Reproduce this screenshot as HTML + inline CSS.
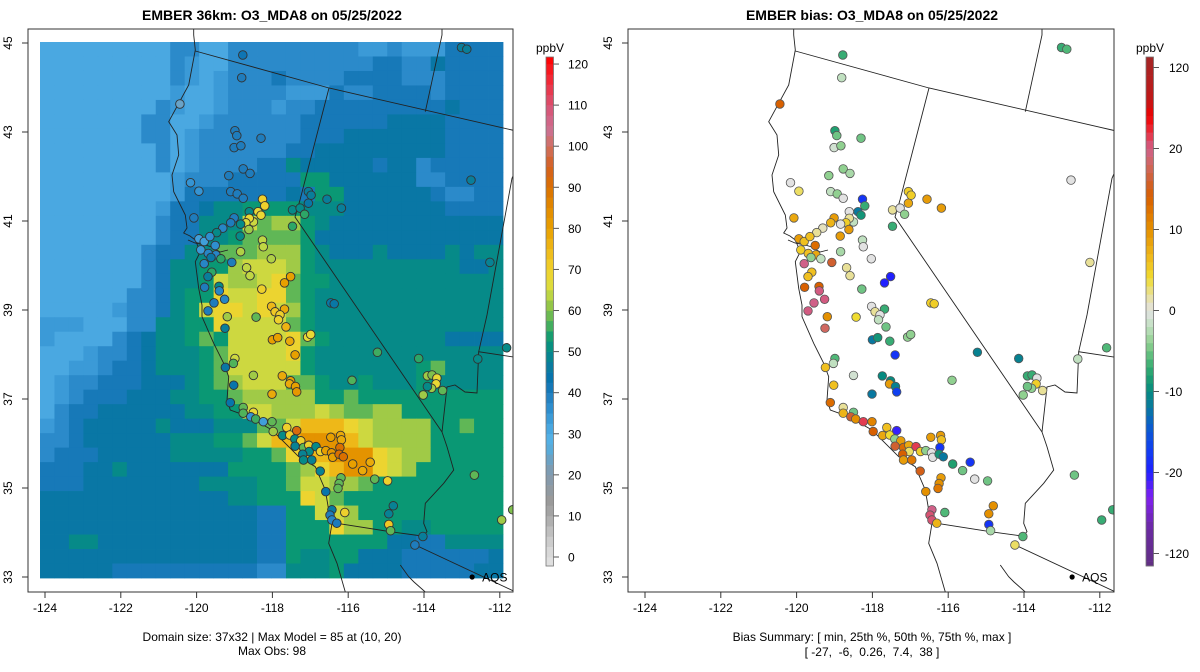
<!DOCTYPE html>
<html><head><meta charset="utf-8"><style>
html,body{margin:0;padding:0;background:#fff;}
svg{display:block;font-family:"Liberation Sans",sans-serif;}
</style></head><body>
<svg id="chart" width="1200" height="672" viewBox="0 0 1200 672">
<defs>
<clipPath id="clipL"><rect x="28" y="29" width="485" height="563"/></clipPath>
<clipPath id="clipR"><rect x="628" y="29" width="486" height="563"/></clipPath>
</defs>
<text x="272" y="20" text-anchor="middle" font-size="14" font-weight="bold">EMBER 36km: O3_MDA8 on 05/25/2022</text>
<text x="872" y="20" text-anchor="middle" font-size="14" font-weight="bold">EMBER bias: O3_MDA8 on 05/25/2022</text>
<g id="gridL" clip-path="url(#clipL)"></g>
<g id="baseL" clip-path="url(#clipL)"></g>
<g id="baseR" clip-path="url(#clipR)"></g>
<g id="dotsL" clip-path="url(#clipL)"></g>
<g id="dotsR" clip-path="url(#clipR)"></g>
<rect x="28" y="29" width="485" height="563" fill="none" stroke="#333" stroke-width="1"/>
<rect x="628" y="29" width="486" height="563" fill="none" stroke="#333" stroke-width="1"/>
<g id="axes"></g>
<g id="cbars"></g>
<text x="272" y="641" text-anchor="middle" font-size="12">Domain size: 37x32 | Max Model = 85 at (10, 20)</text>
<text x="272" y="655" text-anchor="middle" font-size="12">Max Obs: 98</text>
<text x="872" y="641" text-anchor="middle" font-size="12">Bias Summary: [ min, 25th %, 50th %, 75th %, max ]</text>
<text x="872" y="656" text-anchor="middle" font-size="12" xml:space="preserve">[ -27,  -6,  0.26,  7.4,  38 ]</text>
</svg>
<script>
// ---- data ----
const gridRows = [
"aaaaaaaaaccaacccccccccbbcbbbdddd",
"aaaaaaaaacbaaccccccccccddcceddd",
"aaaaaaaaacbabcccdccccddddcccdddd",
"aaaaaaaaabaabccccbbbdccddddcdddd",
"aaaaaaaacbaabcccbccdddddddddeddd",
"aaaaaaaccaabccccccddddddeeeedddd",
"aaaaaaaccabcccccccdddeeeeeeeddddd",
"aaaaaaaacabccccccddeeeeeeeeedddd",
"aaaaaaaacabccccddfeeeeedeecdddd",
"aaaaaaaaabcccdddddggeeeeeeccdddd",
"aaaaaaaaabdddddddedggeeeeeedccdd",
"aaaaaaaabddeffggggfffeeeeeeedddd",
"aaaaaaaacddfffjhiigfeeeeeeeeeeee",
"aaaaaaaacddffghhhhgeeeeeeeeeeeee",
"aaaaaaacddffhhhiiigfeeefeeeefeff",
"aaaaaaacdffggijjjigffffffffffeef",
"aaaaaaacdffgjiijkhggffffffffffff",
"aaaaaaccdfggkjjkkhgfffffffffffff",
"aaaaabccdfgjkkjkjigfffffffffffff",
"bbbaaaccffggkjjjjhgfffffffffffff",
"baaaacdeffghgjjjjkhgffffffffeeee",
"aaabccdefffghjjjjkgfffffffffffff",
"aabbcddefffghjjjjjgfffffffghffff",
"abccdddeeefghijjjhhgffgfffgfffff",
"abcdddeeeffgghiiiiigghgggggggggg",
"acddeeeeeeffggjjiiijihhiiggggggg",
"bcdeeeeefeeefffhhjlllkjiiiigghgg",
"ccdeeeeeefffgghjllmmmljiiiiggggg",
"cdddeeeeefffffgghkllmmmkjiiggggg",
"dddeefeeeeeeegggghiklmmkjigggggg",
"dddeeeeeeeeffffgghjjiihggggggggg",
"eeeeeeeeeeeeeffgggkjhggggggggggg",
"eeeeeeeeeeeeeeeddggjjigggggggggg",
"eeeeeeeeeeeeeeeddgggkiiggffggggg",
"eeffeeeeeeeeeeeddgggggggeeddffff",
"eeeeeeeeeeeeeeeddgffggeeeddddddee",
"eeeeeddddddddddccfffgeeeedddddee"
];
const levelCodes = "abcdefghijklm";
const levelValues = [31,34,37,41,45,50,53,58,62,65,69,75,83];

const stationLon = [-118.78,-118.81,-120.44,-113.01,-112.87,-118.99,-118.94,-118.30,-119.01,-118.83,-119.15,-118.77,-118.59,-120.16,-119.94,-119.10,-118.93,-118.77,-118.26,-118.20,-118.38,-118.30,-118.61,-118.50,-118.61,-118.70,-118.84,-119.01,-119.10,-118.62,-118.85,-120.07,-119.31,-119.47,-119.94,-119.80,-119.65,-119.51,-119.89,-119.69,-119.49,-119.62,-119.36,-119.80,-119.07,-118.84,-118.26,-118.24,-118.03,-118.68,-118.59,-119.60,-119.70,-119.79,-119.41,-119.40,-119.26,-119.54,-119.70,-118.28,-117.68,-117.52,-118.02,-117.93,-117.68,-116.46,-116.37,-117.47,-117.47,-117.27,-117.15,-117.05,-117.05,-116.98,-116.56,-116.18,-112.76,-112.26,-119.19,-118.43,-119.25,-117.80,-117.84,-117.64,-118.00,-117.86,-117.54,-117.07,-116.99,-117.40,-115.23,-114.14,-112.58,-111.82,-118.99,-119.03,-119.24,-118.50,-117.74,-117.52,-117.55,-117.39,-117.36,-118.01,-119.02,-119.11,-115.90,-113.91,-113.79,-113.66,-113.68,-113.80,-113.91,-114.02,-113.51,-118.77,-118.77,-118.50,-118.57,-118.44,-118.24,-118.01,-117.98,-117.62,-117.73,-117.54,-117.36,-117.41,-117.25,-117.40,-117.18,-117.04,-117.03,-117.20,-117.18,-116.96,-116.85,-116.73,-116.59,-116.44,-116.41,-116.46,-116.20,-116.18,-116.22,-116.24,-116.13,-116.74,-115.88,-115.62,-115.42,-115.30,-114.96,-116.19,-116.24,-116.27,-116.59,-116.43,-116.48,-116.43,-116.30,-116.09,-114.81,-114.93,-114.93,-114.88,-114.03,-114.24,-112.67,-111.95,-111.66];
const stationLat = [44.73,44.22,43.63,44.90,44.86,43.03,42.92,42.86,42.65,42.69,42.02,42.17,42.07,41.86,41.67,41.66,41.61,41.51,41.49,41.34,41.21,41.13,41.21,40.98,41.06,40.96,40.93,41.07,40.96,40.81,40.66,41.07,40.84,40.74,40.60,40.54,40.65,40.45,40.35,40.27,40.24,40.18,40.15,40.04,40.07,40.31,40.57,40.42,40.15,39.95,39.77,39.85,39.75,39.51,39.53,39.43,39.24,39.16,38.98,39.47,39.61,39.75,39.08,38.96,39.02,39.16,39.14,40.88,41.25,41.29,41.15,41.66,41.40,41.58,41.49,41.29,41.92,40.07,38.85,38.84,38.59,38.89,38.78,38.62,38.33,38.38,38.30,38.39,38.45,37.99,38.05,37.91,37.90,38.15,37.91,37.80,37.71,37.53,37.52,37.41,37.34,37.28,37.16,37.11,37.31,36.92,37.42,37.52,37.54,37.47,37.34,37.24,37.28,37.09,37.19,36.81,36.68,36.70,36.60,36.55,36.49,36.49,36.27,36.36,36.18,36.19,36.29,36.10,36.06,35.94,35.91,35.96,35.82,35.76,35.63,35.63,35.93,35.82,35.84,35.79,35.69,36.14,36.18,36.08,35.91,35.76,35.70,35.38,35.54,35.39,35.58,35.20,35.16,35.23,35.10,34.99,34.92,34.51,34.39,34.28,34.21,34.45,34.60,34.42,34.18,34.04,33.91,33.72,35.29,34.28,34.51];
const stationObs = [42,40,24,47,47,40,40,40,40,40,40,40,40,35,35,40,40,40,70,70,68,68,50,65,68,66,50,40,40,62,50,40,38,50,33,33,36,36,34,38,38,45,55,38,40,63,64,64,63,64,64,55,47,40,50,38,38,40,40,70,80,80,75,72,78,45,45,55,50,50,55,47,45,47,47,47,47,48,62,58,47,70,70,76,80,80,78,68,68,80,56,55,50,50,65,57,45,62,78,80,78,80,82,78,44,44,57,62,60,68,68,62,50,62,58,58,57,68,35,56,33,58,62,70,50,70,92,50,70,48,58,70,50,48,50,48,50,70,80,82,80,80,78,78,90,90,90,48,80,78,78,58,70,58,58,58,44,46,40,38,40,70,48,48,72,58,47,40,58,62,60];
const stationBias = [-7,-2,14,-7,-6,-8,-5,-5,-1,-4,-4,-4,-3,0,3,-2,-4,0,-18,-7,-12,-9,0,-2,2,5,0,9,7,9,9,8,1,2,9,6,6,13,5,6,8,-4,-2,20,16,-3,-2,0,0,2,2,6,6,14,14,22,22,20,22,-5,-20,-20,0,2,-7,5,5,-7,2,0,-4,5,8,5,9,9,0,2,10,4,18,0,-2,-5,-12,-9,-7,-4,-4,-18,-11,-11,-2,-6,-6,-2,6,-1,-10,-10,9,-11,-17,-12,6,13,-4,-7,-7,0,5,-4,-5,-4,2,2,7,-5,16,10,35,11,14,6,8,4,-27,-4,9,16,13,8,3,14,9,12,35,5,-4,0,0,9,9,6,-18,-9,-12,15,-8,-5,-18,0,-5,9,10,12,10,20,26,26,7,-6,10,10,-18,-3,-6,3,-5,-7,-7];

const lonTicks = [-124,-122,-120,-118,-116,-114,-112];
const latTicks = [33,35,37,39,41,43,45];
const obsTicks = [0,10,20,30,40,50,60,70,80,90,100,110,120];
const biasTicks = [-120,-20,-10,0,10,20,120];

// basemap outlines (left-panel pixel coordinates; reused in right panel offset by 600)
const coastline = [[193.7,29],[193.7,35],[195.3,50],[188.7,85],[178.7,103.3],[168.7,121.7],[177,135],[178.7,155],[172,175],[173.7,191.7],[185.3,215],[187,228],[183.7,233],[190,236],[195.3,240],[200.3,251.7],[195.3,261.7],[198.7,288.3],[202,305],[202,316.7],[213.7,343.3],[223.7,363.3],[228.7,376.7],[227,400],[230.3,410],[248.7,416.7],[272,430],[285.3,443.3],[298.7,456.7],[315.3,466.7],[325.3,490],[328.7,510],[332,523.3],[328.7,543.3],[337,563.3],[345.3,592]];
const bayLine = [[188,240],[195,243],[205,245],[212,247],[220,252],[228,250]];
const borderA = [[195.3,51],[329,88],[512,130],[520,132]];
const borderB = [[329,88],[300,200],[295,217],[442,432]];
const borderC = [[442,29],[442,35],[425.3,111.7]];
const borderD = [[520,160],[512,178.3],[487,315],[478.7,351.7],[520,358]];
const river = [[478.7,351.7],[477,393],[465,392],[455,385],[447,387],[442,432],[447,446.7],[453.7,470],[443.7,483.3],[425.3,503.3],[423.7,523.3],[427,531.7],[422,536.7]];
const mexBorder = [[337,523.3],[390.3,531.7],[422,536]];
const azMex = [[415.3,545],[520,594]];
const gulf = [[400.3,565],[408.7,576.7],[414,582],[425.3,592]];
const aqsLon = -112.73, aqsLat = 33.0;

// ---- scales ----
const NS = "http://www.w3.org/2000/svg";
function xL(lon){ return 45 + (lon + 124) * 37.9; }
function xR(lon){ return 645 + (lon + 124) * 37.9; }
function yM(lat){ return 43 + (45 - lat) * 44.5; }
function gx(c){ return 40 + c * (463 / 32); }
function gy(r){ return 42 + r * (536 / 37); }
function cbObsY(v){ return 557 - v * 4.108; }
function biasU(v){ return Math.abs(v) <= 20 ? v : Math.sign(v) * (20 + (Math.abs(v) - 20) / 10); }
function cbBiasY(v){ return 310.5 - biasU(v) * 8.1; }

function hex2rgb(h){ return [parseInt(h.substr(1,2),16),parseInt(h.substr(3,2),16),parseInt(h.substr(5,2),16)]; }
function interp(stops, v){
  if (v <= stops[0][0]) return stops[0][1];
  if (v >= stops[stops.length-1][0]) return stops[stops.length-1][1];
  for (let i=0;i<stops.length-1;i++){
    const a=stops[i], b=stops[i+1];
    if (v>=a[0] && v<=b[0]){
      const t=(v-a[0])/(b[0]-a[0]); const ca=hex2rgb(a[1]), cb=hex2rgb(b[1]);
      return "rgb("+ca.map((x,k)=>Math.round(x+(cb[k]-x)*t)).join(",")+")";
    }
  }
}
const obsStops = [[-4,"#e6e6e6"],[2,"#d6d6d6"],[6,"#c0c0c0"],[10,"#a8a8a8"],[14,"#999999"],[18,"#8a9aa8"],[22,"#7a9cb5"],[26,"#5aaad8"],[29,"#52b0e6"],[32,"#46a4de"],[36,"#2f8fcf"],[40,"#1f7cbc"],[43,"#0672b0"],[46,"#0a7aa0"],[50,"#068a88"],[53,"#0a9874"],[57,"#50b35a"],[61,"#90c448"],[64,"#c0d644"],[67,"#e8dc38"],[71,"#f0cc28"],[75,"#eeb818"],[80,"#e8a000"],[85,"#e28a00"],[90,"#da7000"],[95,"#d46020"],[100,"#d07060"],[104,"#cc7090"],[108,"#d45c80"],[112,"#e04660"],[116,"#f02a38"],[122,"#ff0000"]];
const biasStops = [[-32,"#603080"],[-27,"#6a2aa0"],[-23,"#8020f0"],[-20,"#2020ff"],[-17,"#1040f0"],[-14,"#0a60c8"],[-12,"#0878a0"],[-10,"#068a80"],[-8,"#20a070"],[-6,"#50b878"],[-4,"#90d090"],[-2,"#c0e0c0"],[0,"#e2e2e2"],[2,"#e8e098"],[4,"#f0dc30"],[6,"#f0c020"],[8,"#eaa810"],[10,"#e49000"],[12,"#e07800"],[14,"#d86000"],[16,"#d06030"],[18,"#d06860"],[20,"#d06088"],[22,"#e83040"],[24,"#f00000"],[26,"#c01818"],[32,"#a02828"]];
function obsColor(v){ return interp(obsStops, v); }
function biasColor(v){ return interp(biasStops, biasU(v)); }

function mk(tag, attrs, parent){
  const e=document.createElementNS(NS,tag);
  for (const k in attrs) e.setAttribute(k, attrs[k]);
  parent.appendChild(e); return e;
}

// ---- model grid ----
const gridG = document.getElementById("gridL");
gridRows.forEach((row, r) => {
  for (let c=0;c<32;c++){
    const ch = row[Math.min(c, row.length-1)];
    const val = levelValues[levelCodes.indexOf(ch)];
    const el = mk("rect",{x:gx(c).toFixed(2),y:gy(r).toFixed(2),width:(gx(c+1)-gx(c)+0.4).toFixed(2),height:(gy(r+1)-gy(r)+0.4).toFixed(2),fill:obsColor(val)},gridG);
    
    
  }
});

// ---- basemaps ----
function drawBase(g, dx){
  [coastline,bayLine,borderA,borderB,borderC,borderD,river,mexBorder,azMex,gulf].forEach(line=>{
    const el = mk("polyline",{points:line.map(p=>(p[0]+dx)+","+p[1]).join(" "),fill:"none",stroke:"#222","stroke-width":"0.9"},g);
    
    
  });
}
drawBase(document.getElementById("baseL"),0);
drawBase(document.getElementById("baseR"),600);

// ---- stations ----
const dL=document.getElementById("dotsL"), dR=document.getElementById("dotsR");
for (let i=0;i<stationLon.length;i++){
  const a = mk("circle",{cx:xL(stationLon[i]).toFixed(1),cy:yM(stationLat[i]).toFixed(1),r:4.3,fill:obsColor(stationObs[i]),stroke:"#333","stroke-width":"0.9"},dL);
  
  
  const b = mk("circle",{cx:xR(stationLon[i]).toFixed(1),cy:yM(stationLat[i]).toFixed(1),r:4.3,fill:biasColor(stationBias[i]),stroke:"#555","stroke-width":"0.8"},dR);
  
  
}
[[xL,dL],[xR,dR]].forEach(([fx,g])=>{
  const d = mk("circle",{cx:fx(aqsLon),cy:yM(aqsLat),r:2.6,fill:"#000"},g);
  
  
  const t = mk("text",{x:fx(aqsLon)+10,y:yM(aqsLat)+4.5,"font-size":"12"},g);
  t.textContent="AQS";
  
  
});

// ---- axes ----
const ax=document.getElementById("axes");
[[xL,0],[xR,600]].forEach(([fx,off])=>{
  lonTicks.forEach(v=>{
    const l = mk("line",{x1:fx(v),x2:fx(v),y1:592,y2:598,stroke:"#333"},ax);
    
    
    const t = mk("text",{x:fx(v),y:612,"text-anchor":"middle","font-size":"12"},ax);
    t.textContent=v;
    
    
  });
  latTicks.forEach(v=>{
    const l = mk("line",{x1:22+off,x2:28+off,y1:yM(v),y2:yM(v),stroke:"#333"},ax);
    
    
    const t = mk("text",{x:12+off,y:yM(v),"text-anchor":"middle","font-size":"12",transform:"rotate(-90 "+(12+off)+" "+yM(v)+")"},ax);
    t.textContent=v;
    
    
  });
});

// ---- colorbars ----
const cb=document.getElementById("cbars");
for (let v=-2.5; v<122.5; v+=2.5){
  const yTop = Math.max(57, cbObsY(v+2.5));
  const yBot = Math.min(566, cbObsY(v));
  const r = mk("rect",{x:546,y:yTop.toFixed(2),width:7.5,height:(yBot-yTop+0.3).toFixed(2),fill:obsColor(v+1.25)},cb);
  
  
}
for (let u=-32; u<31.5; u+=1){
  const yTop = Math.max(57, 310.5 - (u+1)*8.1);
  const yBot = Math.min(566, 310.5 - u*8.1);
  if (yBot <= yTop) continue;
  const vv = Math.abs(u+0.5)<=20 ? u+0.5 : Math.sign(u+0.5)*(20+(Math.abs(u+0.5)-20)*10);
  const r = mk("rect",{x:1146,y:yTop.toFixed(2),width:7.5,height:(yBot-yTop+0.3).toFixed(2),fill:biasColor(vv)},cb);
  
  
}
mk("rect",{x:546,y:57,width:7.5,height:509,fill:"none",stroke:"#777","stroke-width":"0.8"},cb);
mk("rect",{x:1146,y:57,width:7.5,height:509,fill:"none",stroke:"#777","stroke-width":"0.8"},cb);
obsTicks.forEach(v=>{
  const l = mk("line",{x1:553.5,x2:559,y1:cbObsY(v),y2:cbObsY(v),stroke:"#555"},cb);
  
  
  const t = mk("text",{x:568,y:cbObsY(v)+4.5,"font-size":"12"},cb);
  t.textContent=v;
  
  
});
biasTicks.forEach(v=>{
  const l = mk("line",{x1:1153.5,x2:1159,y1:cbBiasY(v),y2:cbBiasY(v),stroke:"#555"},cb);
  
  
  const t = mk("text",{x:v<0?1165:1169,y:cbBiasY(v)+4.5,"font-size":"12"},cb);
  t.textContent=v;
  
  
});
[[550,"obs"],[1150,"bias"]].forEach(([x,n])=>{
  const t = mk("text",{x:x,y:52,"text-anchor":"middle","font-size":"12"},cb);
  t.textContent="ppbV";
  
  
});
</script>
</body></html>
